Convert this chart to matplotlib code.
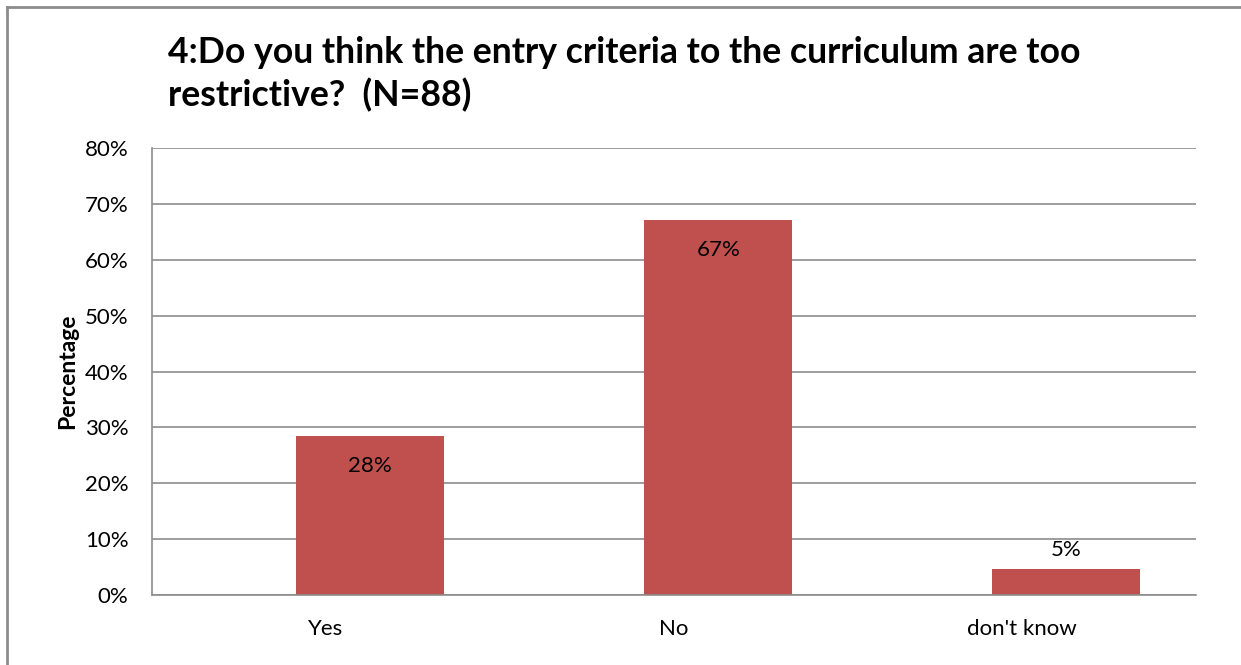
import matplotlib.pyplot as plt
from matplotlib.lines import Line2D

categories = ["Yes", "No", "don't know"]
values = [28.4, 67.1, 4.6]
labels = ["28%", "67%", "5%"]
yticks = [0, 10, 20, 30, 40, 50, 60, 70, 80]

plt.rcParams['font.family'] = ['Lato', 'DejaVu Sans']

fig = plt.figure(figsize=(12.41, 6.65), dpi=100)
ax = fig.add_axes([152 / 1241, 1 - 595 / 665, (1196 - 152) / 1241, (595 - 148) / 665])

# bars sit right of the category centre (empty second series in the original)
offset = 0.127
x = list(range(len(categories)))
bars = ax.bar([i + offset for i in x], values, width=0.425, color="#C0504D", zorder=3)

for b, lab in zip(bars, labels):
    h = b.get_height()
    cx = b.get_x() + b.get_width() / 2
    if h > 10:
        ax.text(cx, h - 5.3, lab, ha="center", va="center", fontsize=16, zorder=4)
    else:
        ax.text(cx, h + 3.4, lab, ha="center", va="center", fontsize=16, zorder=4)

ax.set_xlim(-0.5, 2.5)
ax.set_ylim(0, 80)
ax.set_yticks(yticks)
ax.set_yticklabels([f"{t}%" for t in yticks], fontsize=16)
ax.set_xticks(x)
ax.set_xticklabels(categories, fontsize=16)
ax.tick_params(axis="both", length=0)
ax.tick_params(axis="x", pad=17)
ax.tick_params(axis="y", pad=17)
ax.yaxis.grid(True, color="#8c8c8c", linewidth=1.2, zorder=0)
ax.set_axisbelow(True)
for s in ["top", "right"]:
    ax.spines[s].set_visible(False)
for s in ["left", "bottom"]:
    ax.spines[s].set_color("#8c8c8c")
    ax.spines[s].set_linewidth(1.2)
    ax.spines[s].set_zorder(5)

ax.set_ylabel("Percentage", fontsize=16.5, fontweight="bold", labelpad=5)

fig.text(168 / 1241, 1 - 74 / 665, "4:Do you think the entry criteria to the curriculum are too\nrestrictive?  (N=88)",
         fontsize=25.7, fontweight="bold", ha="left", va="center", linespacing=1.3)

# chart border
fig.add_artist(Line2D([7 / 1241, 7 / 1241], [0, 1 - 7 / 665], color="#8c8c8c", linewidth=2, transform=fig.transFigure))
fig.add_artist(Line2D([7 / 1241, 1], [1 - 7 / 665, 1 - 7 / 665], color="#8c8c8c", linewidth=2, transform=fig.transFigure))

fig.savefig("out.png", dpi=100)
